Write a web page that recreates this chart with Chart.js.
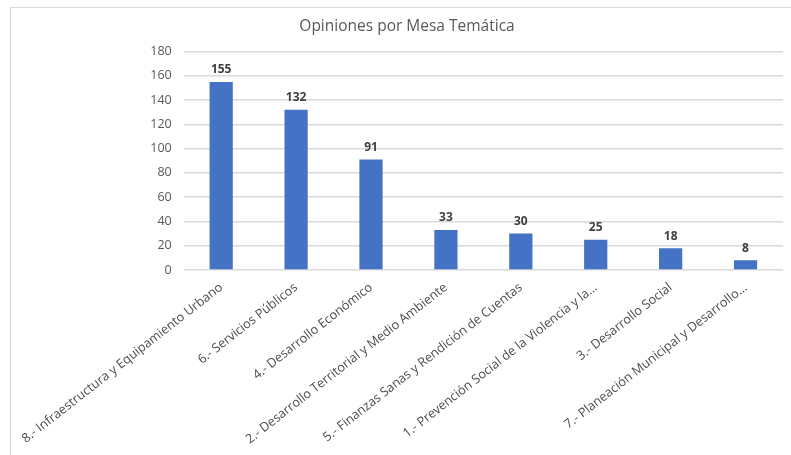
<!DOCTYPE html>
<html>
<head>
<meta charset="utf-8">
<script src="https://cdn.jsdelivr.net/npm/chart.js@4"></script>
<style>
  html, body { margin: 0; padding: 0; background: #fff; overflow: hidden; width: 791px; height: 455px; }
  .box {
    position: absolute; left: 10px; top: 7px;
    width: 800px; height: 460px;
    border-top: 1px solid #d9d9d9; border-left: 1px solid #d9d9d9;
  }
  canvas { display: block; }
</style>
</head>
<body>
<div class="box"><canvas id="myCanvas" width="800" height="447"></canvas></div>
<script>
const title = "Opiniones por Mesa Temática";
const categories = [
  "8.- Infraestructura y Equipamiento Urbano",
  "6.- Servicios Públicos",
  "4.- Desarrollo Económico",
  "2.- Desarrollo Territorial y Medio Ambiente",
  "5.- Finanzas Sanas y Rendición de Cuentas",
  "1.- Prevención Social de la Violencia y la...",
  "3.- Desarrollo Social",
  "7.- Planeación Municipal y Desarrollo..."
];
const opinions = [155, 132, 91, 33, 30, 25, 18, 8];
const yTicks = [0, 20, 40, 60, 80, 100, 120, 140, 160, 180];

// values above each bar
const barLabels = {
  id: 'barLabels',
  afterDatasetsDraw(chart) {
    const ctx = chart.ctx;
    ctx.save();
    ctx.font = 'bold 12px "Open Sans"';
    ctx.fillStyle = '#404040';
    ctx.textAlign = 'center';
    ctx.textBaseline = 'bottom';
    chart.getDatasetMeta(0).data.forEach((bar, i) => {
      ctx.fillText(opinions[i], bar.x, bar.y - 6);
    });
    ctx.restore();
  }
};

let ctx = document.getElementById("myCanvas").getContext("2d");

new Chart(ctx, {
  type: "bar",
  data: {
    labels: categories,
    datasets: [{
      label: "Opiniones",
      data: opinions,
      backgroundColor: "#4472c4",
      borderWidth: 0,
      categoryPercentage: 1,
      barPercentage: 0.31
    }]
  },
  options: {
    responsive: false,
    animation: false,
    layout: { padding: { left: 20, right: 28, top: 0, bottom: 0 } },
    plugins: {
      legend: { display: false },
      tooltip: { enabled: false },
      title: {
        display: true,
        text: title,
        color: '#595959',
        font: { family: 'Open Sans', size: 15.5, weight: 'normal', lineHeight: 1.2 },
        padding: { top: 9, bottom: 16 }
      }
    },
    scales: {
      x: {
        grid: { display: false },
        border: { display: false },
        ticks: {
          autoSkip: false,
          minRotation: 38,
          maxRotation: 38,
          color: '#4d4d4d',
          font: { family: 'Open Sans', size: 12.7 },
          padding: 2
        },
        afterFit(scale) { scale.height = 185; }
      },
      y: {
        min: 0,
        max: 180,
        afterBuildTicks(scale) { scale.ticks = yTicks.map(v => ({ value: v })); },
        grid: { color: '#d9d9d9', lineWidth: 1.5, drawTicks: false },
        border: { display: false },
        ticks: {
          color: '#595959',
          font: { family: 'Open Sans', size: 12.5 },
          padding: 12
        },
        afterFit(scale) { scale.width = 151.5; }
      }
    }
  },
  plugins: [barLabels]
});
</script>
</body>
</html>
